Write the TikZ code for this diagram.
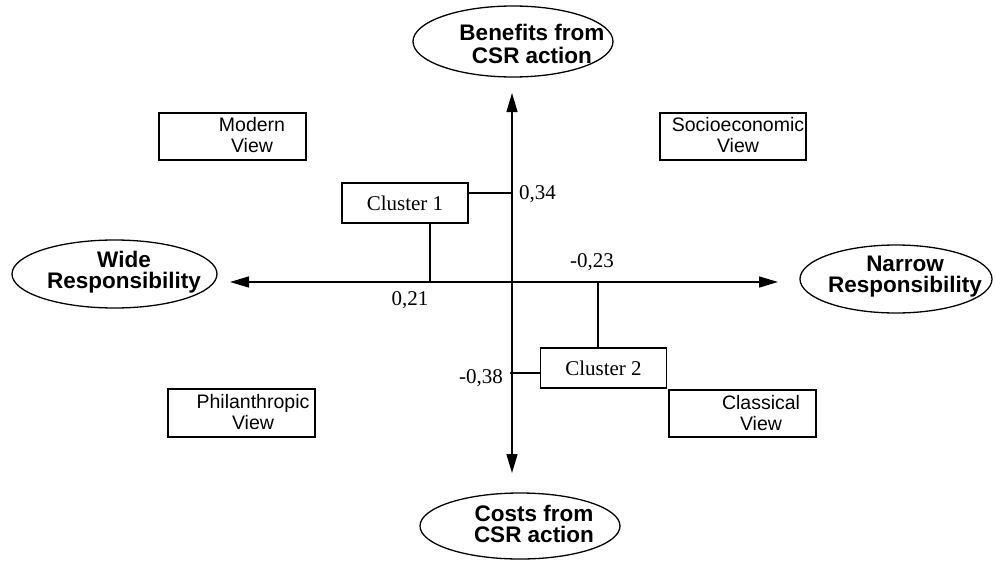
\documentclass[tikz,border=0pt]{standalone}
\usepackage{fontspec}
\setmainfont{Liberation Serif}
\newfontfamily\helv{Liberation Sans}
\usetikzlibrary{arrows.meta,shapes.geometric}

\tikzset{
  pole/.style={draw, ellipse, line width=1.3pt, inner sep=0pt},
  poletext/.style={font=\helv\bfseries\fontsize{22.5}{#1}\selectfont, align=center, inner sep=0pt},
  viewbox/.style={draw, rectangle, line width=1.4pt, inner sep=0pt},
  viewtext/.style={font=\helv\fontsize{19.5}{21}\selectfont, align=center, inner sep=0pt},
  clusterbox/.style={draw, rectangle, line width=1.2pt, minimum width=126pt, minimum height=40pt,
                     font=\fontsize{21}{23}\selectfont, inner sep=0pt},
  value/.style={font=\fontsize{21}{23}\selectfont, inner sep=0pt},
  axis/.style={line width=1.4pt, {Triangle[length=19pt,width=11pt]}-{Triangle[length=19pt,width=11pt]}},
  link/.style={line width=1.2pt}
}

\begin{document}
\begin{tikzpicture}[x=1pt, y=-1pt]
  \useasboundingbox (0,0) rectangle (995,562);

  % poles of the two dimensions
  \node[pole, minimum width=200pt, minimum height=71pt] (benefits) at (513,41.5) {};
  \node[poletext=23] (benefits-t) at (532,44) {Benefits from\\CSR action};
  \node[pole, minimum width=200pt, minimum height=66pt] (costs) at (520,526) {};
  \node[poletext=21] (costs-t) at (534,524) {Costs from\\CSR action};
  \node[pole, minimum width=205pt, minimum height=68pt] (wide) at (114.5,274) {};
  \node[poletext=21] (wide-t) at (124,272) {Wide\\Responsibility};
  \node[pole, minimum width=192pt, minimum height=68pt] (narrow) at (896,279) {};
  \node[poletext=21] (narrow-t) at (905,277) {Narrow\\Responsibility};

  % axes
  \coordinate (axT) at (512,93);
  \coordinate (axB) at (512,473);
  \coordinate (axL) at (230,282);
  \coordinate (axR) at (778,282);
  \draw[axis] (axT) -- (axB);
  \draw[axis] (axL) -- (axR);

  % quadrant views
  \node[viewbox, minimum width=147pt, minimum height=47pt] (modern) at (232.5,136.5) {};
  \node[viewtext] (modern-t) at (252,135) {Modern\\View};
  \node[viewbox, minimum width=146pt, minimum height=47pt] (socio) at (733,136.5) {};
  \node[viewtext] (socio-t) at (738,135) {Socioeconomic\\View};
  \node[viewbox, minimum width=147pt, minimum height=48pt] (philan) at (241.5,413) {};
  \node[viewtext] (philan-t) at (253,412) {Philanthropic\\View};
  \node[viewbox, minimum width=147pt, minimum height=47pt] (classical) at (742.5,413.5) {};
  \node[viewtext] (classical-t) at (761,413) {Classical\\View};

  % clusters and their coordinates
  \node[clusterbox] (c1) at (405,203) {Cluster 1};
  \node[clusterbox] (c2) at (603.5,368) {Cluster 2};

  \coordinate (k1) at (512,193);
  \coordinate (k2) at (430,282);
  \coordinate (k3) at (598,282);
  \coordinate (k4) at (510,373);
  \draw[link] (c1.east |- k1) -- (k1);
  \draw[link] (c1.south -| k2) -- (k2);
  \draw[link] (c2.north -| k3) -- (k3);
  \draw[link] (c2.west |- k4) -- (k4);

  \node[value, anchor=west] (v1) at (519,194) {0,34};
  \node[value] (v2) at (410,300) {0,21};
  \node[value] (v3) at (592,262) {-0,23};
  \node[value, anchor=east] (v4) at (503,378) {-0,38};
\end{tikzpicture}
\end{document}
